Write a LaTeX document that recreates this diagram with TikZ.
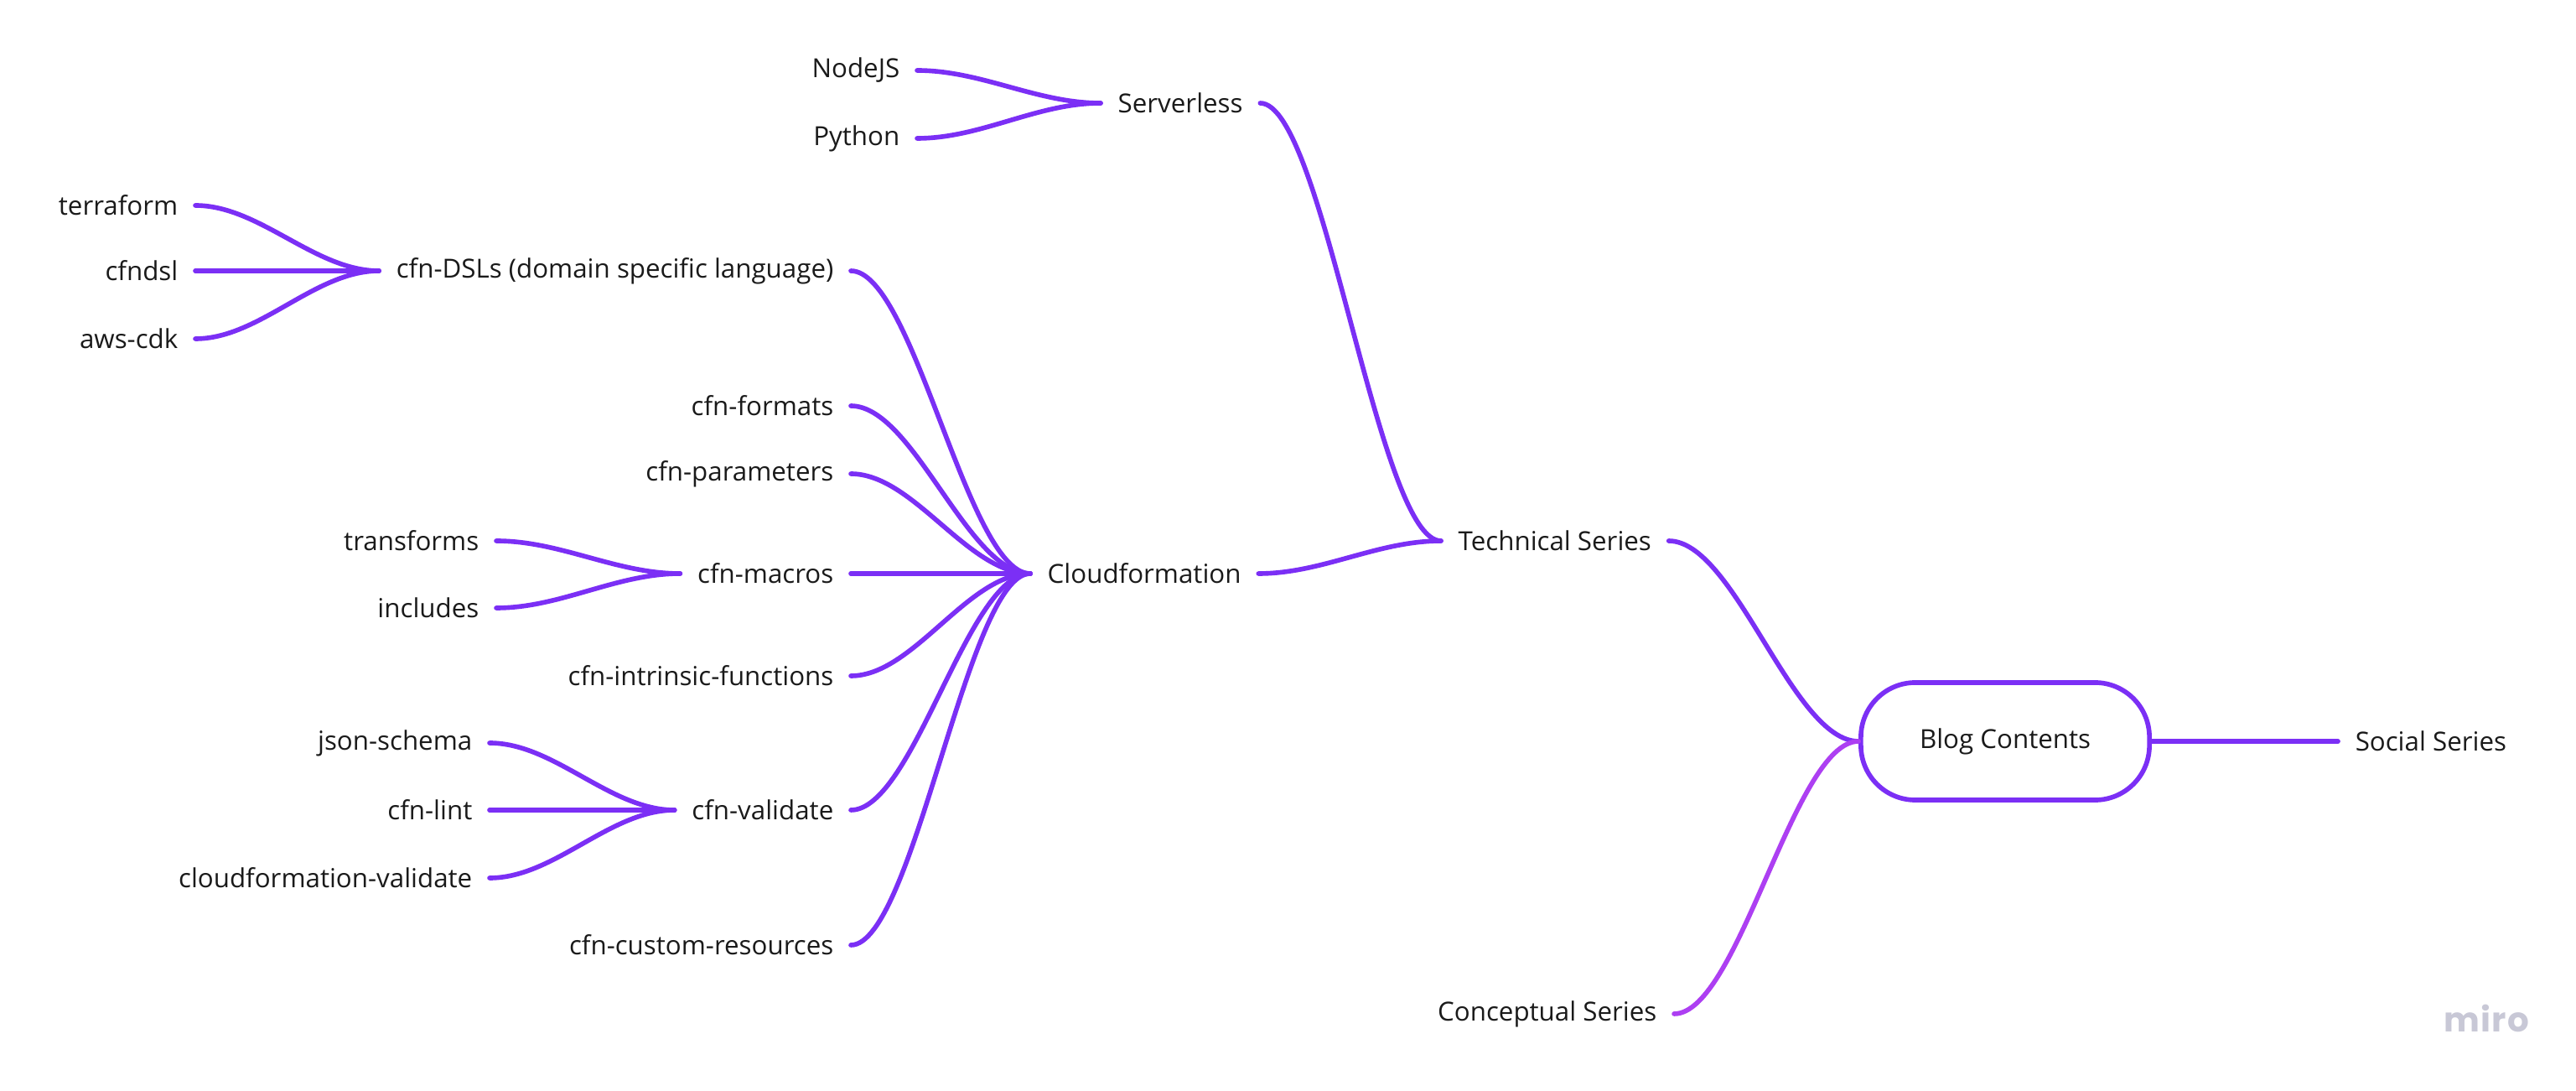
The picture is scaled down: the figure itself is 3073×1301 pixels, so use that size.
\documentclass[tikz,border=0pt]{standalone}
\usepackage{fontspec}
\usetikzlibrary{calc}
\setmainfont{Open Sans}
\newfontfamily\mirofont{Poppins}
\definecolor{vio}{HTML}{7B2FF5}
\definecolor{lvio}{HTML}{AD3FF2}
\definecolor{txt}{HTML}{1A1A1A}
\definecolor{mirogray}{HTML}{C8C8D6}
\begin{document}
\begin{tikzpicture}[x=0.01cm,y=-0.01cm,
  lbl/.style={inner xsep=0.2cm, inner ysep=0.1cm, text=txt, font=\fontsize{8.9pt}{10pt}\selectfont},
  conn/.style={draw=vio, line width=1.6pt, line cap=round},
  lconn/.style={draw=lvio, line width=1.6pt, line cap=round},
  curve/.style={to path={let \p1=(\tikztostart), \p2=(\tikztotarget) in
      .. controls ({\x1+0.35*(\x2-\x1)},\y1) and ({\x2-0.35*(\x2-\x1)},\y2) .. (\tikztotarget) \tikztonodes}},
  rootbox/.style={draw=vio, line width=1.6pt, rounded corners=0.65cm, minimum width=3.44cm, minimum height=1.4cm, text=txt, font=\fontsize{8.9pt}{10pt}\selectfont}
]
\useasboundingbox (0,0) rectangle (3073,1301);
\fill[white] (0,0) rectangle (3073,1301);

% nodes
\node[lbl, anchor=east] (nodejs) at (1094,84) {NodeJS};
\node[lbl, anchor=east] (python) at (1094,165) {Python};
\node[lbl, anchor=west] (serverless) at (1313,123) {Serverless};

\node[lbl, anchor=east] (terraform) at (233,245) {terraform};
\node[lbl, anchor=east] (cfndsl) at (233,323) {cfndsl};
\node[lbl, anchor=east] (awscdk) at (233,404) {aws-cdk};
\node[lbl, anchor=east] (dsls) at (1015,323) {cfn-DSLs (domain specific language)};

\node[lbl, anchor=east] (formats) at (1015,484) {cfn-formats};
\node[lbl, anchor=east] (params) at (1015,565) {cfn-parameters};

\node[lbl, anchor=east] (transforms) at (592,645) {transforms};
\node[lbl, anchor=east] (includes) at (592,725) {includes};
\node[lbl, anchor=east] (macros) at (1015,684) {cfn-macros};

\node[lbl, anchor=east] (intrinsic) at (1015,806) {cfn-intrinsic-functions};

\node[lbl, anchor=east] (jsonschema) at (584,886) {json-schema};
\node[lbl, anchor=east] (cfnlint) at (584,966) {cfn-lint};
\node[lbl, anchor=east] (cfval) at (584,1047) {cloudformation-validate};
\node[lbl, anchor=east] (validate) at (1015,966) {cfn-validate};

\node[lbl, anchor=east] (custom) at (1015,1127) {cfn-custom-resources};

\node[lbl, anchor=west] (cloudformation) at (1229,684) {Cloudformation};
\node[lbl, anchor=west] (technical) at (1719,645) {Technical Series};
\node[lbl, anchor=east] (conceptual) at (1997,1209) {Conceptual Series};

\node[rootbox] (blog) at (2392,884) {Blog Contents};
\node[lbl, anchor=west] (social) at (2789,884) {Social Series};

\node[text=mirogray, font=\mirofont\fontsize{11.5pt}{12pt}\selectfont\bfseries, anchor=center] (miro) at (2966,1214) {m\kern0.4pt i\kern0.4pt r\kern0.4pt o};

% connectors
\draw[conn] (nodejs.east) to[curve] (serverless.west);
\draw[conn] (python.east) to[curve] (serverless.west);
\draw[conn] (serverless.east) to[curve] (technical.west);

\draw[conn] (terraform.east) to[curve] (dsls.west);
\draw[conn] (cfndsl.east) -- (dsls.west);
\draw[conn] (awscdk.east) to[curve] (dsls.west);

\draw[conn] (transforms.east) to[curve] (macros.west);
\draw[conn] (includes.east) to[curve] (macros.west);

\draw[conn] (jsonschema.east) to[curve] (validate.west);
\draw[conn] (cfnlint.east) -- (validate.west);
\draw[conn] (cfval.east) to[curve] (validate.west);

\draw[conn] (dsls.east) to[curve] (cloudformation.west);
\draw[conn] (formats.east) to[curve] (cloudformation.west);
\draw[conn] (params.east) to[curve] (cloudformation.west);
\draw[conn] (macros.east) -- (cloudformation.west);
\draw[conn] (intrinsic.east) to[curve] (cloudformation.west);
\draw[conn] (validate.east) to[curve] (cloudformation.west);
\draw[conn] (custom.east) to[curve] (cloudformation.west);

\draw[conn] (cloudformation.east) to[curve] (technical.west);
\draw[conn] (technical.east) to[curve] (blog.west);
\draw[lconn] (conceptual.east) to[curve] (blog.west);
\draw[conn] (blog.east) -- (social.west);
\end{tikzpicture}
\end{document}
